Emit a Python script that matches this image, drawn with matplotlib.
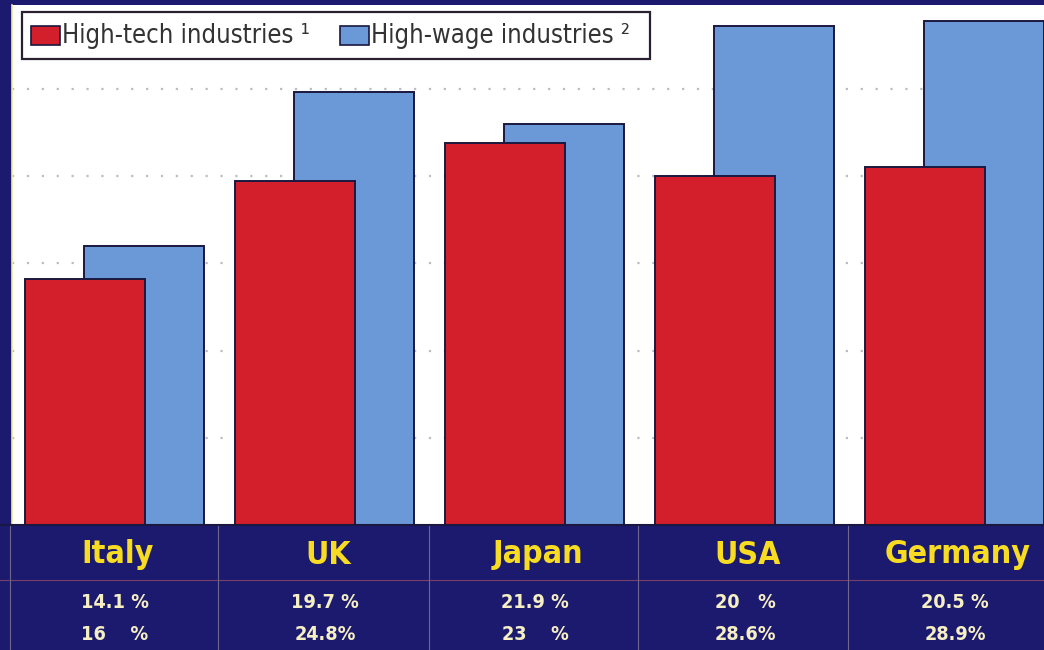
import matplotlib
matplotlib.use("Agg")
import matplotlib.pyplot as plt
from matplotlib.patches import Rectangle
from matplotlib.lines import Line2D
from matplotlib import font_manager
import numpy as np

# Share of manufacturing output, per country
countries = ["Italy", "UK", "Japan", "USA", "Germany"]
high_tech = [14.1, 19.7, 21.9, 20.0, 20.5]
high_wage = [16.0, 24.8, 23.0, 28.6, 28.9]
high_tech_labels = ["14.1 %", "19.7 %", "21.9 %", "20   %", "20.5 %"]
high_wage_labels = ["16    %", "24.8%", "23    %", "28.6%", "28.9%"]
series_names = ["High-tech industries \u00b9", "High-wage industries \u00b2"]
grid_values = [5, 10, 15, 20, 25]

NAVY = "#1b1a6e"
RED = "#d21f2b"
BLUE = "#6b98d6"
YELLOW = "#f7dc22"
PALE = "#f6efc4"
EDGE = "#1a1840"

W, H = 1044, 650
fig = plt.figure(figsize=(W / 100, H / 100), dpi=100, facecolor=NAVY)

def fx(px):
    return px / W

def fy(py):
    return 1 - py / H

# pick a narrow face if one is available
names = {f.name for f in font_manager.fontManager.ttflist}
condensed_dejavu = any(f.name == "DejaVu Sans" and str(f.stretch) in ("condensed", "semi-condensed")
                       for f in font_manager.fontManager.ttflist)
if "Liberation Sans Narrow" in names:
    font_kw = dict(family=["Liberation Sans Narrow", "DejaVu Sans"])
    scale = 1.0
elif condensed_dejavu:
    font_kw = dict(family=["DejaVu Sans"], fontstretch="condensed")
    scale = 0.92
else:
    font_kw = dict(family=["Liberation Sans", "DejaVu Sans"])
    scale = 0.88

# plot area
ax_left, ax_right, ax_top, ax_bottom = 12, 1044, 5, 525
ax = fig.add_axes([fx(ax_left), fy(ax_bottom), fx(ax_right - ax_left), fy(ax_top) - fy(ax_bottom)])
ax.set_facecolor("white")

x = np.arange(len(countries))
group_px = 210.0
bar_w = 120 / group_px
red_off = -29 / group_px
blue_off = 30 / group_px

for g in grid_values:
    ax.axhline(g, color="#bcbcc6", lw=1.6, ls=(0, (1, 5.7)), zorder=0)

ax.bar(x + blue_off, high_wage, width=bar_w, color=BLUE, edgecolor=EDGE, linewidth=1.4, zorder=2)
ax.bar(x + red_off, high_tech, width=bar_w, color=RED, edgecolor=EDGE, linewidth=1.4, zorder=3)

ax.set_xlim((ax_left - 114) / group_px, (ax_right - 114) / group_px)
ax.set_ylim(0, (ax_bottom - ax_top) / 17.45)
ax.set_xticks([])
ax.set_yticks([])
for side, sp in ax.spines.items():
    sp.set_visible(False)
ax.spines["left"].set_visible(True)
ax.spines["left"].set_color("#f3e9a0")
ax.spines["left"].set_linewidth(1.2)

# legend box
fig.patches.append(Rectangle((fx(22), fy(59)), fx(650 - 22), fy(12) - fy(59),
                             transform=fig.transFigure, facecolor="white",
                             edgecolor="#2a2030", linewidth=1.6, zorder=5))
swatches = [(31, RED), (340, BLUE)]
for (sx, col), name in zip(swatches, series_names):
    fig.patches.append(Rectangle((fx(sx), fy(45)), fx(29), fy(26) - fy(45),
                                 transform=fig.transFigure, facecolor=col,
                                 edgecolor=EDGE, linewidth=1.2, zorder=6))
    fig.text(fx(sx + 31), fy(36), name, fontsize=20 * scale,
             color="#333333", va="center", ha="left", zorder=7, **font_kw)

# table beneath the bars
fig.add_artist(Line2D([0, 1], [fy(525), fy(525)], color=EDGE, lw=1.5))
fig.add_artist(Line2D([0, 1], [fy(580), fy(580)], color="#7a3e6a", lw=0.8))
for dx in [10, 218, 429, 638, 848]:
    fig.add_artist(Line2D([fx(dx), fx(dx)], [0, fy(526)], color="#6e6590", lw=0.8))

centers = [114 + group_px * i for i in range(len(countries))]
for cx, name, lt, lw_ in zip(centers, countries, high_tech_labels, high_wage_labels):
    fig.text(fx(cx + 4), fy(555), name, fontweight="bold",
             fontsize=25 * scale, color=YELLOW, ha="center", va="center", **font_kw)
    fig.text(fx(cx + 1), fy(603), lt, fontweight="bold",
             fontsize=15.5 * scale, color=PALE, ha="center", va="center", **font_kw)
    fig.text(fx(cx + 1), fy(634), lw_, fontweight="bold",
             fontsize=15.5 * scale, color=PALE, ha="center", va="center", **font_kw)

fig.savefig("out.png", dpi=100, facecolor=NAVY)
